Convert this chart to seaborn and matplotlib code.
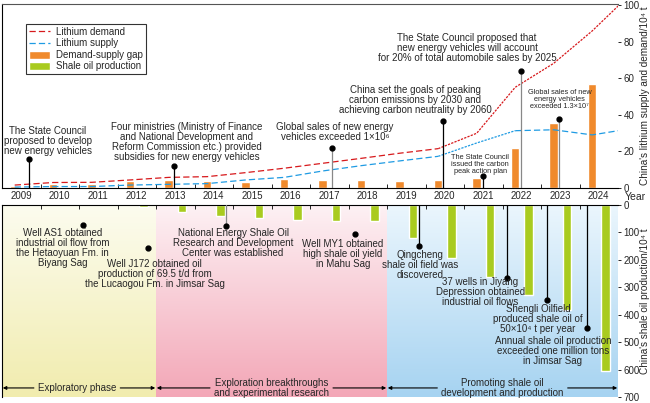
import numpy as np
import pandas as pd
import matplotlib
matplotlib.use('Agg')
import matplotlib.pyplot as plt
import seaborn as sns
from matplotlib.colors import LinearSegmentedColormap
from matplotlib.lines import Line2D
from matplotlib.patches import Patch

# data
years = list(range(2009, 2025))
line_years = years + [2025]
demand = [1.6, 3.0, 3.1, 4.4, 5.8, 6.2, 8.4, 10.8, 13.5, 16.2, 19.0, 21.5, 29.9, 55.0, 68.1, 85.8, 106.0]
supply = [0.5, 0.8, 0.8, 1.6, 2.0, 2.4, 4.4, 5.8, 9.3, 12.2, 14.8, 17.3, 24.6, 31.3, 31.8, 29.0, 32.4]
gap = [1.0, 2.3, 2.3, 3.8, 4.4, 3.8, 3.3, 4.9, 4.4, 4.4, 3.8, 4.4, 5.6, 22.0, 35.7, 56.7]
shale_years = list(range(2012, 2025))
shale = [6, 24, 39, 46, 55, 57, 57, 119, 192, 263, 327, 383, 604]

phase_names = ['Exploratory phase',
               'Exploration breakthroughs\nand experimental research',
               'Promoting shale oil\ndevelopment and production']
phase_bounds = [2008.5, 2012.5, 2018.5, 2024.5]
phase_colors = [('#fcfcef', '#f1ecae'), ('#fdf1f4', '#f3a7b7'), ('#ebf6fd', '#a6d3f1')]

top_events = [
    (2009.2, 15.8, 2009.69, 25.7, 'The State Council\nproposed to develop\nnew energy vehicles', 'black', 7),
    (2012.97, 12.0, 2013.3, 24.9, 'Four ministries (Ministry of Finance\nand National Development and\n'
     'Reform Commission etc.) provided\nsubsidies for new energy vehicles', 'black', 7),
    (2017.07, 21.9, 2017.15, 30.8, 'Global sales of new energy\nvehicles exceeded 1×10⁶', '#888888', 7),
    (2019.95, 36.6, 2019.23, 47.8, 'China set the goals of peaking\ncarbon emissions by 2030 and\n'
     'achieving carbon neutrality by 2060', 'black', 7),
    (2021.98, 63.9, 2020.58, 76.5, 'The State Council proposed that\nnew energy vehicles will account\n'
     'for 20% of total automobile sales by 2025', '#888888', 7),
    (2020.99, 6.6, 2020.92, 12.8, 'The State Council\nissued the carbon\npeak action plan', 'black', 5.3),
    (2022.97, 37.7, 2022.99, 48.4, 'Global sales of new\nenergy vehicles\nexceeded 1.3×10⁷', '#888888', 5.3),
]
bottom_events = [
    (2010.6, 73, 2010.08, 155, 'Well AS1 obtained\nindustrial oil flow from\nthe Hetaoyuan Fm. in\nBiyang Sag', None),
    (2012.29, 157, 2012.47, 253, 'Well J172 obtained oil\nproduction of 69.5 t/d from\nthe Lucaogou Fm. in Jimsar Sag', None),
    (2014.32, 77, 2014.5, 140, 'National Energy Shale Oil\nResearch and Development\nCenter was established', '#888888'),
    (2017.67, 106, 2017.36, 177, 'Well MY1 obtained\nhigh shale oil yield\nin Mahu Sag', None),
    (2019.33, 150, 2019.36, 217, 'Qingcheng\nshale oil field was\ndiscovered', 'black'),
    (2021.62, 266, 2020.92, 319, '37 wells in Jiyang\nDepression obtained\nindustrial oil flows', 'black'),
    (2022.66, 346, 2022.42, 416, 'Shengli Oilfield\nproduced shale oil of\n50×10⁴ t per year', 'black'),
    (2023.7, 448, 2022.81, 532, 'Annual shale oil production\nexceeded one million tons\nin Jimsar Sag', 'black'),
]

sns.set_style('white')
plt.rcParams['font.family'] = ['Liberation Sans', 'DejaVu Sans']
plt.rcParams['font.size'] = 7

W, H = 650, 403
fig = plt.figure(figsize=(W / 100, H / 100), dpi=100)
ax = fig.add_axes([2 / W, 1 - 188 / H, 616 / W, 184 / H])
ax2 = fig.add_axes([2 / W, 6 / H, 616 / W, 192 / H])

red = '#d7191c'
blue = '#1f9be3'
orange = '#f08a2c'
green = '#a9cb1f'

# ---- upper panel: lithium
df = pd.DataFrame({'year': line_years, 'demand': demand, 'supply': supply})
df['x'] = df['year'] - 0.17
segs = [
    ('demand', red, df[df.year <= 2020], (0, (5, 2.5))),
    ('demand', red, df[df.year >= 2020], (0, (1.8, 1))),
    ('supply', blue, df[df.year <= 2020], (0, (5, 2.5))),
    ('supply', blue, df[(df.year >= 2020) & (df.year <= 2022)], (0, (1.8, 1))),
    ('supply', blue, df[df.year >= 2022], (0, (5, 2.5))),
]
for col, c, sub, ls in segs:
    sns.lineplot(data=sub, x='x', y=col, color=c, linestyle=ls, linewidth=0.9,
                 estimator=None, ax=ax, zorder=3)

sns.barplot(x=np.array(years) - 0.17, y=gap, native_scale=True, width=0.22,
            color=orange, saturation=1, ax=ax, zorder=2)

ax.set_xlim(2008.5, 2024.5)
ax.set_ylim(0, 100.5)
ax.set_xticks(years)
ax.set_xticklabels([str(y) for y in years])
ax.set_xticks(np.arange(2009.5, 2024.5, 1), minor=True)
ax.tick_params(axis='x', which='major', length=0, pad=2.5, labelsize=7)
ax.tick_params(axis='x', which='minor', direction='in', length=3, width=0.7, bottom=True)
ax.yaxis.tick_right()
ax.set_yticks(range(0, 101, 20))
ax.tick_params(axis='y', direction='out', length=2.5, width=0.7, pad=1.5, labelsize=7, right=True)
ax.yaxis.set_label_position('right')
ax.set_ylabel('China\'s lithium supply and demand/10⁴ t', fontsize=7.2, labelpad=0.5)
ax.set_xlabel('')
for s in ['left', 'top', 'bottom']:
    ax.spines[s].set_color('black')
    ax.spines[s].set_linewidth(0.8)
ax.spines['top'].set_color('#555555')
ax.spines['right'].set_visible(False)

for x, y, tx, ty, s, sc, fs in top_events:
    ax.plot([x, x], [0, y], color=sc, lw=0.9, zorder=4)
    ax.plot(x, y, 'o', color='black', ms=3.5, zorder=5)
    ax.text(tx, ty, s, ha='center', va='center', fontsize=fs, linespacing=1.0, zorder=6)

handles = [Line2D([], [], color=red, lw=0.9, linestyle=(0, (5, 2.5))),
           Line2D([], [], color=blue, lw=0.9, linestyle=(0, (5, 2.5))),
           Patch(facecolor=orange), Patch(facecolor=green)]
labels = ['Lithium demand', 'Lithium supply', 'Demand-supply gap', 'Shale oil production']
leg = ax.legend(handles, labels, loc='upper left', bbox_to_anchor=(0.039, 0.891),
                frameon=True, fancybox=False, edgecolor='black', fontsize=7,
                handlelength=2.2, handleheight=0.9, borderaxespad=0, labelspacing=0.15,
                borderpad=0.3, handletextpad=0.6)
leg.get_frame().set_linewidth(0.8)

# ---- lower panel: shale oil
grad = np.linspace(0, 1, 256).reshape(-1, 1)
for i in range(3):
    cmap = LinearSegmentedColormap.from_list('g%d' % i, list(phase_colors[i]))
    ax2.imshow(grad, cmap=cmap, aspect='auto', zorder=0,
               extent=(phase_bounds[i], phase_bounds[i + 1], 700, 0))

sns.barplot(x=np.array(shale_years) + 0.17, y=shale, native_scale=True, width=0.22,
            color=green, saturation=1, ax=ax2, zorder=2)

ax2.set_xlim(2008.5, 2024.5)
ax2.set_ylim(700, 0)
ax2.set_xticks([])
ax2.set_xticks(np.arange(2009.5, 2024.5, 1), minor=True)
ax2.xaxis.tick_top()
ax2.tick_params(axis='x', which='minor', direction='in', length=3, width=0.7,
                top=True, bottom=False, labeltop=False)
ax2.yaxis.tick_right()
ax2.set_yticks(range(0, 701, 100))
ax2.tick_params(axis='y', direction='out', length=2.5, width=0.7, pad=1.5, labelsize=7, right=True)
ax2.yaxis.set_label_position('right')
ax2.set_ylabel('China\'s shale oil production/10⁴ t', fontsize=7.2, labelpad=0.5)
ax2.set_xlabel('')
for s in ['left', 'top']:
    ax2.spines[s].set_color('black')
    ax2.spines[s].set_linewidth(0.8)
ax2.spines['right'].set_visible(False)
ax2.spines['bottom'].set_visible(False)

for x, y, tx, ty, s, sc in bottom_events:
    if sc:
        ax2.plot([x, x], [0, y], color=sc, lw=0.9, zorder=4)
    ax2.plot(x, y, 'o', color='black', ms=3.5, zorder=5)
    ax2.text(tx, ty, s, ha='center', va='center', fontsize=7, linespacing=1.0, zorder=6)

# phase labels with arrows
arrow_y = 667
phase_texts = []
for i, name in enumerate(phase_names):
    cx = (phase_bounds[i] + phase_bounds[i + 1]) / 2
    if i == 0:
        cx -= 0.05
    t = ax2.text(cx, arrow_y, name, ha='center', va='center', fontsize=7,
                 linespacing=1.0, zorder=6)
    phase_texts.append(t)

fig.canvas.draw()
inv = ax2.transData.inverted()
for i, t in enumerate(phase_texts):
    bb = t.get_window_extent()
    x0 = inv.transform((bb.x0 - 4, 0))[0]
    x1 = inv.transform((bb.x1 + 4, 0))[0]
    ap = dict(arrowstyle='-|>', lw=0.8, color='black', mutation_scale=5, shrinkA=0, shrinkB=0)
    ax2.annotate('', xy=(phase_bounds[i] + 0.02, arrow_y), xytext=(x0, arrow_y), arrowprops=ap, zorder=6)
    ax2.annotate('', xy=(phase_bounds[i + 1] - 0.02, arrow_y), xytext=(x1, arrow_y), arrowprops=ap, zorder=6)

fig.text(635 / W, 1 - 197 / H, 'Year', ha='center', va='center', fontsize=7.5)

fig.savefig('out.png', dpi=100)
